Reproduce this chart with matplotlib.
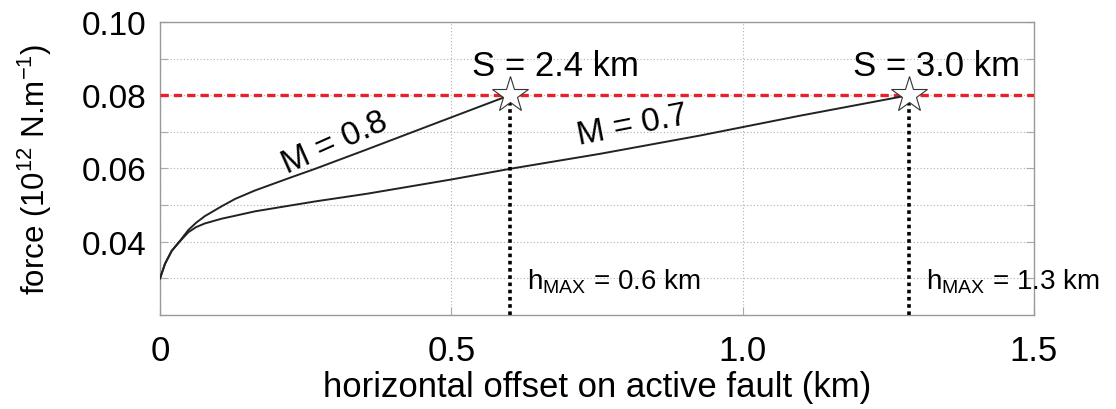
import matplotlib
matplotlib.use("Agg")
import matplotlib.pyplot as plt

plt.rcParams['font.family'] = ['Liberation Sans', 'DejaVu Sans']

# force vs horizontal offset, two friction cases
x_m08 = [0, 0.0086, 0.020, 0.034, 0.0486, 0.062, 0.077, 0.106, 0.129, 0.163,
         0.220, 0.266, 0.355, 0.469, 0.60]
f_m08 = [0.030, 0.0340, 0.0375, 0.0402, 0.0432, 0.0452, 0.0470, 0.0497, 0.0517,
         0.0540, 0.0573, 0.0599, 0.0652, 0.0721, 0.080]

x_m07 = [0, 0.0086, 0.020, 0.034, 0.0486, 0.062, 0.077, 0.106, 0.129, 0.163,
         0.220, 0.266, 0.355, 0.50, 0.604, 0.755, 0.927, 1.098, 1.285]
f_m07 = [0.030, 0.0340, 0.0375, 0.0401, 0.0426, 0.0440, 0.0450, 0.0463, 0.0471,
         0.0483, 0.0498, 0.0510, 0.0531, 0.0570, 0.0600, 0.0640, 0.0690, 0.0744,
         0.080]

f_max = 0.08
h_max = [0.60, 1.285]
h_labels = ['0.6', '1.3']
s_labels = ['2.4', '3.0']

fig = plt.figure(figsize=(11.16, 4.10), dpi=100)
ax = fig.add_axes([0.1434, 0.2293, 0.7831, 0.7146])

ax.set_xlim(0, 1.5)
ax.set_ylim(0.02, 0.10)
ax.set_yticks([0.03, 0.04, 0.05, 0.06, 0.07, 0.08, 0.09, 0.10])
ax.set_yticklabels(['', '0.04', '', '0.06', '', '0.08', '', '0.10'])
ax.set_xticks([0, 0.5, 1.0, 1.5])
ax.set_xticklabels(['0', '0.5', '1.0', '1.5'])
ax.grid(True, color='#b0b0b0', linestyle=(0, (1, 2)), linewidth=0.8)
ax.tick_params(axis='y', direction='in', length=6, color='#aaaaaa',
               labelsize=24, right=True, pad=10)
ax.tick_params(axis='x', direction='in', length=6, color='#aaaaaa',
               labelsize=25, pad=14)
for s in ax.spines.values():
    s.set_color('#999999')
    s.set_linewidth(1.0)

ax.axhline(f_max, color='#e8202a', linestyle=(0, (2.5, 1.5)), linewidth=2.4, zorder=3)

ax.plot(x_m08, f_m08, color='#222222', linewidth=1.4, zorder=4)
ax.plot(x_m07, f_m07, color='#222222', linewidth=1.4, zorder=4)

for h, hl in zip(h_max, h_labels):
    ax.plot([h, h], [0.02, f_max], color='black', linestyle=(0, (1, 1)),
            linewidth=2.6, zorder=4)
    ax.plot(h, f_max, marker='*', markersize=27, markerfacecolor='white',
            markeredgecolor='#333333', markeredgewidth=0.8, zorder=5)
    ax.text(h + 0.03, 0.0295, r'h$_{\mathregular{MAX}}$ = ' + hl + ' km',
            fontsize=20, ha='left', va='center', zorder=6)

ax.text(0.678, 0.0882, 'S = ' + s_labels[0] + ' km', fontsize=25,
        ha='center', va='center', zorder=6)
ax.text(1.333, 0.0882, 'S = ' + s_labels[1] + ' km', fontsize=25,
        ha='center', va='center', zorder=6)

ax.text(0.300, 0.0672, 'M = 0.8', fontsize=24, rotation=24,
        ha='center', va='center')
ax.text(0.810, 0.0718, 'M = 0.7', fontsize=24, rotation=11,
        ha='center', va='center')

ax.set_xlabel('horizontal offset on active fault (km)', fontsize=25, labelpad=2)
ax.set_ylabel(r'force (10$^{\mathregular{12}}$ N.m$^{\mathregular{-1}}$)',
              fontsize=22.5, labelpad=20)

fig.savefig('out.png', dpi=100)
